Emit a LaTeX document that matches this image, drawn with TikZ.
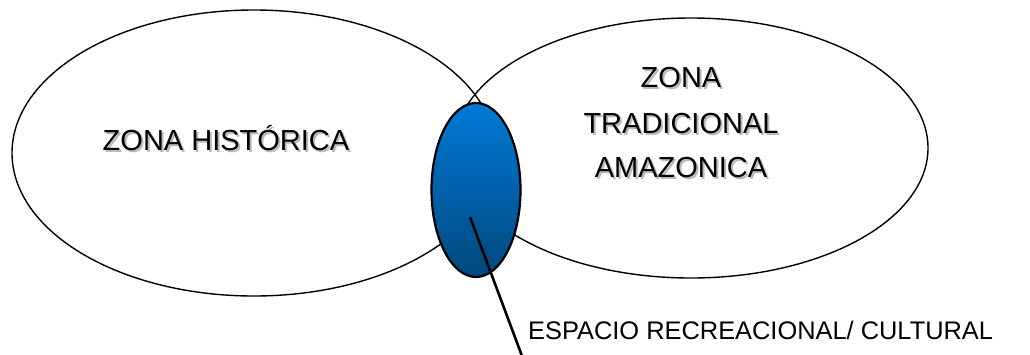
\documentclass[tikz,border=0pt]{standalone}
\usepackage{fontspec}
\setmainfont{Liberation Sans}
\usetikzlibrary{shapes.geometric}
\definecolor{bluetop}{RGB}{0,122,214}
\definecolor{bluebot}{RGB}{0,72,125}
\tikzset{
  zone/.style={ellipse, draw=black, line width=1.4pt, inner sep=0pt},
  inter/.style={ellipse, draw=black, line width=2.2pt, inner sep=0pt, top color=bluetop, bottom color=bluebot},
  lbl/.style={anchor=base, inner sep=0pt, font=\fontsize{29}{34}\selectfont},
  shadow/.style={anchor=base, inner sep=0pt, font=\fontsize{29}{34}\selectfont, text=black!45, opacity=0.6},
  pointer/.style={line width=2.6pt, draw=black},
  note/.style={anchor=base west, inner sep=0pt, font=\fontsize{25.4}{30}\selectfont}
}
\begin{document}
\begin{tikzpicture}[x=1pt,y=-1pt]
\useasboundingbox (0,0) rectangle (1030,354);
\node[zone, minimum width=484pt, minimum height=286pt] (hist) at (254,153) {};
\node[zone, minimum width=474pt, minimum height=260pt] (trad) at (691,148) {};
\node[inter, minimum width=89pt, minimum height=174pt] (esp) at (476,190) {};
% shadows
\node[shadow] (s1) at (228,152) {ZONA HISTÓRICA};
\node[shadow] (s2) at (683,89) {ZONA};
\node[shadow] (s3) at (683,135) {TRADICIONAL};
\node[shadow] (s4) at (683,179) {AMAZONICA};
% labels
\node[lbl] (t1) at (226,150) {ZONA HISTÓRICA};
\node[lbl] (t2) at (681,87) {ZONA};
\node[lbl] (t3) at (681,133) {TRADICIONAL};
\node[lbl] (t4) at (681,177) {AMAZONICA};
\node[note] (t5) at (528,339) {ESPACIO RECREACIONAL/ CULTURAL};
\coordinate (p1) at (470,217);
\coordinate (p2) at (522,356);
\draw[pointer] (p1) -- (p2);
\end{tikzpicture}
\end{document}
